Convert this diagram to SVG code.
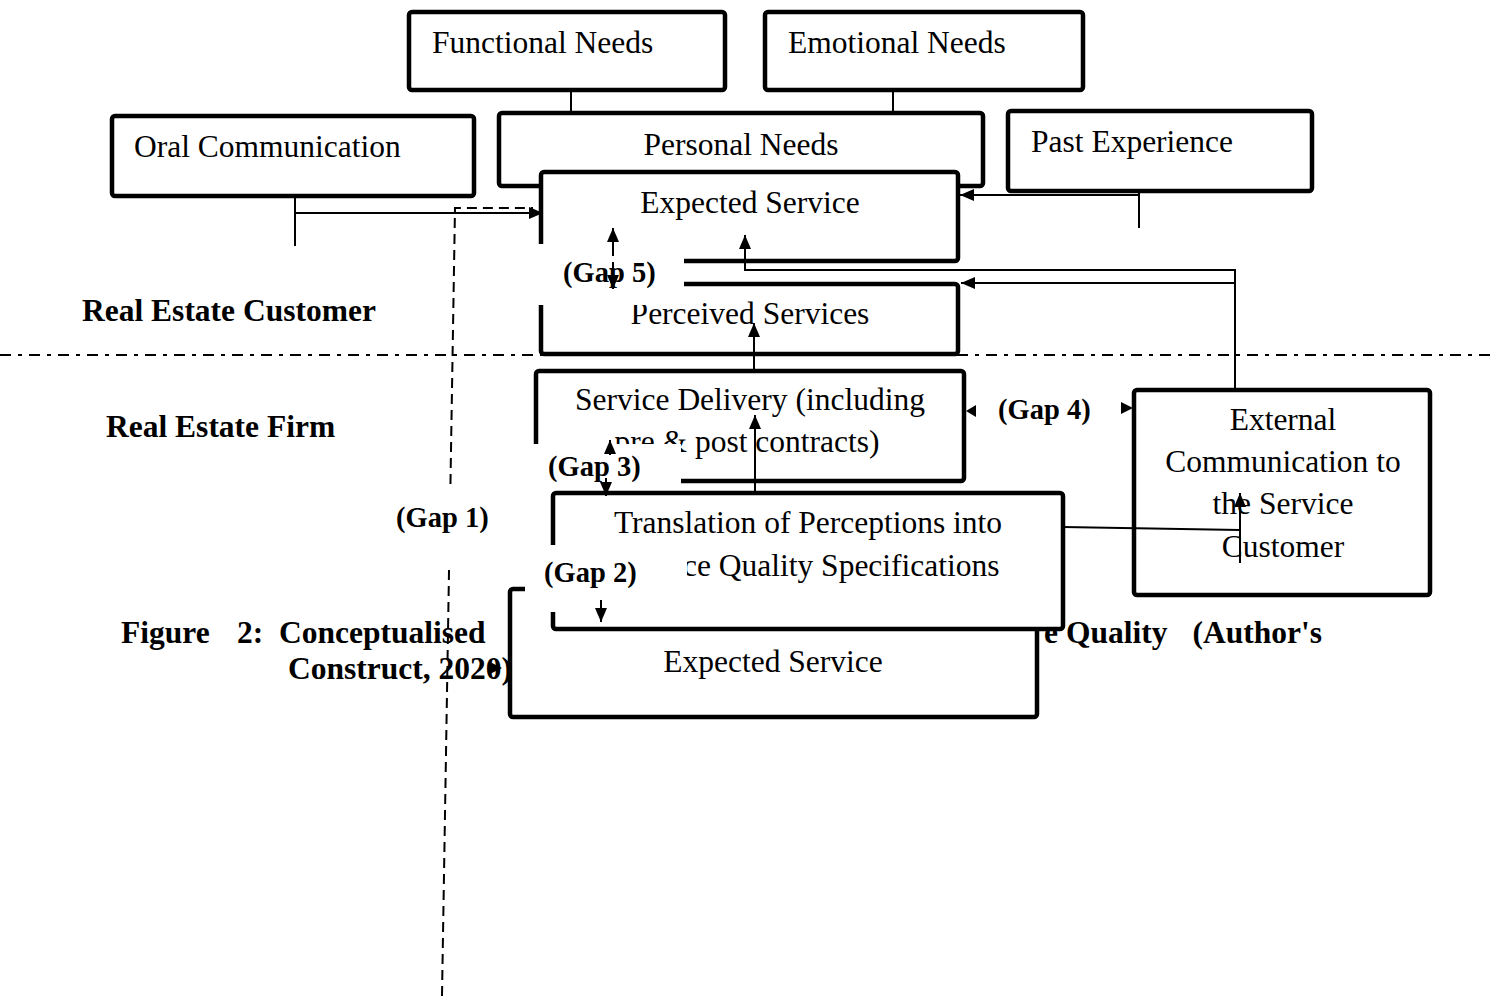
<svg xmlns="http://www.w3.org/2000/svg" width="1493" height="996" viewBox="0 0 1493 996">
<style>
.box{fill:#fff;stroke:#000;stroke-width:4.5}
.t{font-family:"Liberation Serif","Times New Roman",serif;font-size:31.5px;fill:#000}
.b{font-weight:bold}
.g{font-family:"Liberation Serif","Times New Roman",serif;font-size:28.5px;font-weight:bold;fill:#000}
.c{stroke:#000;stroke-width:2;fill:none}
.dash{stroke-dasharray:10 6}
.cover{fill:#fff}
.m{text-anchor:middle}
</style>
<defs>
<marker id="ah" markerUnits="userSpaceOnUse" markerWidth="14" markerHeight="12" refX="14" refY="6" orient="auto">
<path d="M0,0 L14,6 L0,12 z" fill="#000"/>
</marker>
</defs>
<rect width="1493" height="996" fill="#fff"/>
<g id="boundary">
<line x1="0" y1="355" x2="1493" y2="355" stroke="#000" stroke-width="2" stroke-dasharray="11 7 4 7"/>
</g>
<g id="side-labels">
<text class="t b" x="82" y="321">Real Estate Customer</text>
<text class="t b" x="106" y="437">Real Estate Firm</text>
</g>
<g id="caption">
<text class="t b" x="121" y="643">Figure</text>
<text class="t b" x="237" y="643">2:</text>
<text class="t b" x="279" y="643">Conceptualised</text>
<text class="t b" x="1044" y="643">e</text>
<text class="t b" x="1066" y="643">Quality</text>
<text class="t b" x="1322" y="643" text-anchor="end">(Author's</text>
<text class="t b" x="288" y="679">Construct, 2020)</text>
</g>
<g id="functional-needs">
<rect class="box" x="409" y="12" width="316" height="78" rx="3"/>
<text class="t" x="432" y="53">Functional Needs</text>
</g>
<g id="emotional-needs">
<rect class="box" x="765" y="12" width="318" height="78" rx="3"/>
<text class="t" x="788" y="53">Emotional Needs</text>
</g>
<g id="oral-communication">
<rect class="box" x="112" y="116" width="362" height="80" rx="3"/>
<text class="t" x="134" y="157">Oral Communication</text>
</g>
<g id="personal-needs">
<rect class="box" x="499" y="113" width="484" height="73" rx="3"/>
<text class="t m" x="741" y="155">Personal Needs</text>
</g>
<g id="past-experience">
<rect class="box" x="1008" y="111" width="304" height="80" rx="3"/>
<text class="t" x="1031" y="152">Past Experience</text>
</g>
<g id="expected-service">
<rect class="box" x="541" y="172" width="417" height="89" rx="3"/>
<text class="t m" x="750" y="213">Expected Service</text>
</g>
<g id="perceived-services">
<rect class="box" x="541" y="284" width="417" height="70" rx="3"/>
<text class="t m" x="750" y="324">Perceived Services</text>
</g>
<g id="service-delivery">
<rect class="box" x="536" y="371" width="428" height="110" rx="3"/>
<text class="t m" x="750" y="410">Service Delivery (including</text>
<text class="t m" x="747" y="452">pre &amp; post contracts)</text>
</g>
<g id="external-communication">
<rect class="box" x="1134" y="390" width="296" height="205" rx="3"/>
<text class="t m" x="1283" y="430">External</text>
<text class="t m" x="1283" y="472">Communication to</text>
<text class="t m" x="1283" y="514">the Service</text>
<text class="t m" x="1283" y="557">Customer</text>
</g>
<g id="management-perceptions">
<rect class="box" x="510" y="589" width="527" height="128" rx="3"/>
<text class="t m" x="773" y="672">Expected Service</text>
</g>
<g id="translation">
<rect class="box" x="553" y="493" width="510" height="136" rx="3"/>
<text class="t m" x="808" y="533">Translation of Perceptions into</text>
<text class="t m" x="808" y="576">Service Quality Specifications</text>
</g>
<g id="connectors">
<path class="c" d="M571 90 V113"/>
<path class="c" d="M893 90 V113"/>
<path class="c" d="M295 196 V246"/>
<path class="c" d="M295 213 H543" marker-end="url(#ah)"/>
<path class="c" d="M1139 191 V228"/>
<path class="c" d="M1139 195 H960" marker-end="url(#ah)"/>
<path class="c" d="M1235 390 V270 H745 V235" marker-end="url(#ah)"/>
<path class="c" d="M1235 283 H961" marker-end="url(#ah)"/>
<path class="c" d="M754 371 V323" marker-end="url(#ah)"/>
<path class="c" d="M755 493 V415" marker-end="url(#ah)"/>
<path class="c" d="M1063 527 L1240 530"/>
<path class="c" d="M1240 563 V493" marker-end="url(#ah)"/>
<path class="c dash" d="M442 996 L455 208 H533"/>
<path d="M490 662 L502 668 L490 674 z" fill="#000"/>
</g>
<g id="gap5">
<rect class="cover" x="537" y="244" width="147" height="61"/>
<text class="g" x="563" y="282">(Gap 5)</text>
<path class="c" d="M613 256 V228" marker-end="url(#ah)"/>
<path class="c" d="M613 262 V289" marker-end="url(#ah)"/>
</g>
<g id="gap3">
<rect class="cover" x="530" y="444" width="151" height="45"/>
<text class="g" x="548" y="476">(Gap 3)</text>
<path class="c" d="M610 455 V440" marker-end="url(#ah)"/>
<path class="c" d="M606 478 V496" marker-end="url(#ah)"/>
</g>
<g id="gap4">
<text class="g" x="998" y="419">(Gap 4)</text>
<path d="M966 411 L976 405 L976 417 z" fill="#000"/>
<path d="M1133 408 L1121 402 L1121 414 z" fill="#000"/>
</g>
<g id="gap1">
<rect class="cover" x="388" y="490" width="110" height="78"/>
<text class="g" x="396" y="527">(Gap 1)</text>
</g>
<g id="gap2">
<rect class="cover" x="525" y="545" width="162" height="67"/>
<text class="g" x="544" y="582">(Gap 2)</text>
<path class="c" d="M601 600 V622" marker-end="url(#ah)"/>
</g>
</svg>
